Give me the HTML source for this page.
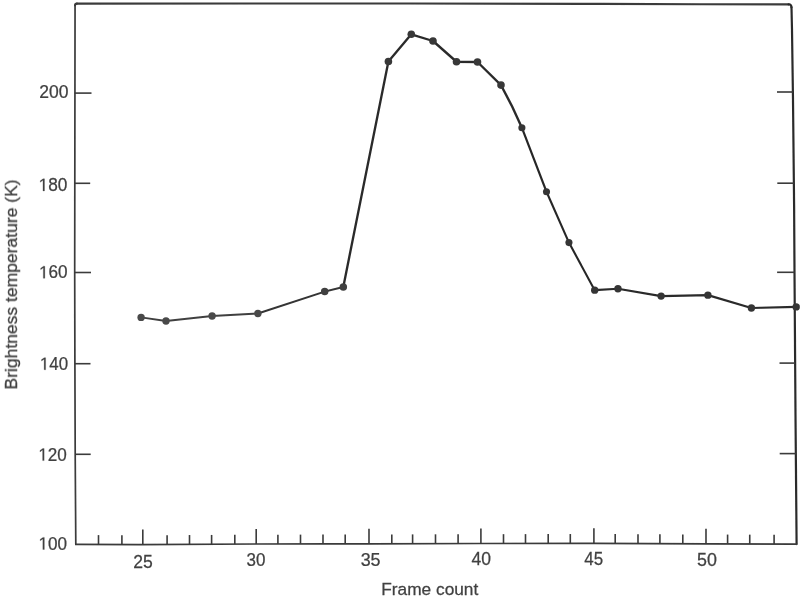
<!DOCTYPE html>
<html>
<head>
<meta charset="utf-8">
<title>Brightness temperature vs frame count</title>
<style>
  html, body { margin: 0; padding: 0; background: #ffffff; }
  body { width: 800px; height: 600px; overflow: hidden; position: relative; font-family: "Liberation Sans", sans-serif; }
  svg { position: absolute; left: 0; top: 0; display: block; }
  text { font-family: "Liberation Sans", sans-serif; fill: #404040; stroke: #404040; stroke-width: 0.25; }
</style>
</head>
<body>
<svg width="800" height="600" viewBox="0 0 800 600">
  <defs>
    <filter id="soft" x="0" y="0" width="800" height="600" filterUnits="userSpaceOnUse">
      <feGaussianBlur stdDeviation="0.35"/>
    </filter>
  </defs>
  <rect x="0" y="0" width="800" height="600" fill="#ffffff"/>
  <g id="all" filter="url(#soft)">
  <!-- frame -->
  <g id="frame" fill="none" stroke="#3a3a3a" stroke-linejoin="round" stroke-linecap="round">
    <polyline stroke-width="1.7" points="75.05,5.40 74.80,190.00 74.70,272.00 74.90,363.00 75.20,454.00 75.80,544.30"/>
    <polyline stroke-width="2.1" points="76.90,3.65 250.00,3.50 410.00,3.45 600.00,3.90 700.00,4.30 788.60,4.35"/>
    <polyline stroke="#2c2c2c" stroke-width="2.2" points="791.50,7.40 792.00,30.00 793.00,100.00 794.10,205.00 794.50,272.00 795.50,415.00 796.60,544.10"/>
    <polyline stroke-width="1.7" points="75.80,544.30 140.00,544.60 256.00,544.00 370.00,543.80 480.00,543.50 594.00,543.30 706.00,543.80 796.60,544.10"/>
    <path stroke="#2c2c2c" stroke-width="2.2" d="M788.6 4.35 Q791.3 4.0 791.5 7.4"/>
    <path stroke-width="2.1" d="M75.05 5.4 Q75.0 3.75 76.9 3.65"/>
  </g>
  <!-- left ticks -->
  <g id="lticks" stroke="#3a3a3a" stroke-width="1.6" stroke-linecap="butt">
    <line x1="74.93" y1="93.10" x2="91.50" y2="93.10"/>
    <line x1="74.81" y1="183.30" x2="90.20" y2="183.30"/>
    <line x1="74.70" y1="272.50" x2="91.00" y2="272.50"/>
    <line x1="74.90" y1="363.70" x2="90.50" y2="363.70"/>
    <line x1="75.20" y1="454.30" x2="90.70" y2="454.30"/>
  </g>
  <!-- right ticks -->
  <g id="rticks" stroke="#3a3a3a" stroke-width="1.6" stroke-linecap="butt">
    <line x1="777.00" y1="92.00" x2="792.89" y2="92.00"/>
    <line x1="777.30" y1="183.20" x2="793.87" y2="183.20"/>
    <line x1="777.10" y1="272.30" x2="794.50" y2="272.30"/>
    <line x1="779.50" y1="363.10" x2="795.14" y2="363.10"/>
    <line x1="779.70" y1="453.60" x2="795.83" y2="453.60"/>
  </g>
  <!-- bottom ticks -->
  <g id="bticks" stroke="#3a3a3a" stroke-width="1.6" stroke-linecap="butt">
    <line x1="98.50" y1="535.11" x2="98.50" y2="544.41"/>
    <line x1="121.90" y1="535.22" x2="121.90" y2="544.52"/>
    <line x1="142.80" y1="529.59" x2="142.80" y2="544.59"/>
    <line x1="167.10" y1="535.16" x2="167.10" y2="544.46"/>
    <line x1="189.50" y1="535.04" x2="189.50" y2="544.34"/>
    <line x1="211.60" y1="534.93" x2="211.60" y2="544.23"/>
    <line x1="234.80" y1="534.81" x2="234.80" y2="544.11"/>
    <line x1="256.20" y1="529.00" x2="256.20" y2="544.00"/>
    <line x1="277.90" y1="534.66" x2="277.90" y2="543.96"/>
    <line x1="300.50" y1="534.62" x2="300.50" y2="543.92"/>
    <line x1="323.00" y1="534.58" x2="323.00" y2="543.88"/>
    <line x1="345.20" y1="534.54" x2="345.20" y2="543.84"/>
    <line x1="369.00" y1="528.80" x2="369.00" y2="543.80"/>
    <line x1="391.80" y1="534.44" x2="391.80" y2="543.74"/>
    <line x1="412.60" y1="534.38" x2="412.60" y2="543.68"/>
    <line x1="435.50" y1="534.32" x2="435.50" y2="543.62"/>
    <line x1="458.10" y1="534.26" x2="458.10" y2="543.56"/>
    <line x1="480.90" y1="528.50" x2="480.90" y2="543.50"/>
    <line x1="503.50" y1="534.16" x2="503.50" y2="543.46"/>
    <line x1="525.50" y1="534.12" x2="525.50" y2="543.42"/>
    <line x1="548.20" y1="534.08" x2="548.20" y2="543.38"/>
    <line x1="570.30" y1="534.04" x2="570.30" y2="543.34"/>
    <line x1="593.90" y1="528.30" x2="593.90" y2="543.30"/>
    <line x1="615.20" y1="534.09" x2="615.20" y2="543.39"/>
    <line x1="638.00" y1="534.20" x2="638.00" y2="543.50"/>
    <line x1="659.90" y1="534.29" x2="659.90" y2="543.59"/>
    <line x1="682.80" y1="534.40" x2="682.80" y2="543.70"/>
    <line x1="706.00" y1="528.80" x2="706.00" y2="543.80"/>
    <line x1="727.60" y1="534.57" x2="727.60" y2="543.87"/>
    <line x1="749.75" y1="534.64" x2="749.75" y2="543.94"/>
    <line x1="774.10" y1="534.73" x2="774.10" y2="544.03"/>
  </g>
  <!-- tick labels -->
  <g id="labels">
    <text id="l200" transform="translate(39.36 97.77) scale(0.9954 1)" font-size="17.60">200</text>
    <g id="l180" transform="translate(38.63 190.94) scale(0.9810 1)">
      <path d="M515 0V1237L197 1010V1180L530 1409H696V0Z" transform="scale(0.008594 -0.008594)" fill="#404040" stroke="#404040" stroke-width="29.1"/>
      <text x="9.79" y="0" font-size="17.60">80</text>
    </g>
    <g id="l160" transform="translate(39.03 278.32) scale(0.9744 1)">
      <path d="M515 0V1237L197 1010V1180L530 1409H696V0Z" transform="scale(0.008594 -0.008594)" fill="#404040" stroke="#404040" stroke-width="29.1"/>
      <text x="9.79" y="0" font-size="17.60">60</text>
    </g>
    <g id="l140" transform="translate(39.89 369.76) scale(0.9587 1)">
      <path d="M515 0V1237L197 1010V1180L530 1409H696V0Z" transform="scale(0.008594 -0.008594)" fill="#404040" stroke="#404040" stroke-width="29.1"/>
      <text x="9.79" y="0" font-size="17.60">40</text>
    </g>
    <g id="l120" transform="translate(38.31 460.59) scale(0.9725 1)">
      <path d="M515 0V1237L197 1010V1180L530 1409H696V0Z" transform="scale(0.008594 -0.008594)" fill="#404040" stroke="#404040" stroke-width="29.1"/>
      <text x="9.79" y="0" font-size="17.60">20</text>
    </g>
    <g id="l100" transform="translate(38.53 549.51) scale(0.9723 1)">
      <path d="M515 0V1237L197 1010V1180L530 1409H696V0Z" transform="scale(0.008594 -0.008594)" fill="#404040" stroke="#404040" stroke-width="29.1"/>
      <text x="9.79" y="0" font-size="17.60">00</text>
    </g>
    <text id="l25" transform="translate(133.18 567.63) scale(0.9985 1)" font-size="17.60">25</text>
    <text id="l30" transform="translate(246.62 566.29) scale(0.9644 1)" font-size="17.60">30</text>
    <text id="l35" transform="translate(360.65 565.80) scale(1.0170 1)" font-size="17.60">35</text>
    <text id="l40" transform="translate(471.54 565.09) scale(0.9949 1)" font-size="17.60">40</text>
    <text id="l45" transform="translate(584.37 564.62) scale(0.9639 1)" font-size="17.60">45</text>
    <text id="l50" transform="translate(697.05 566.11) scale(1.0158 1)" font-size="17.60">50</text>
  </g>
  <!-- axis titles -->
  <text id="xtitle" transform="translate(381.20 595.00) scale(1.0300 1)" font-size="16.80">Frame count</text>
  <text id="ytitle" transform="translate(17.00 389.50) rotate(-90) scale(1.0740 1)" font-size="16.30">Brightness temperature (K)</text>
  <!-- data line -->
  <g id="curve" fill="none" stroke-linejoin="round" stroke-linecap="round">
    <polyline stroke="#404040" stroke-width="1.9" points="141.10,317.40 166.00,321.00 212.10,316.00 257.90,313.50"/>
    <polyline stroke="#343434" stroke-width="2.05" points="257.90,313.50 324.70,291.60 343.30,286.90"/>
    <path stroke="#2c2c2c" stroke-width="2.35" d="M343.30 286.90 L388.40 61.50 L411.30 34.30 L433.00 41.00 L456.50 61.75 L477.50 62.00 L501.00 85.10 Q512.55 105.92 521.90 127.75"/>
    <polyline stroke="#282828" stroke-width="2.1" points="521.90,127.75 546.50,191.75 568.95,242.60 594.70,290.15"/>
    <polyline stroke="#2a2a2a" stroke-width="2.15" points="594.70,290.15 617.95,288.75 661.10,296.10 707.90,295.15 751.40,308.00 796.20,306.90"/>
  </g>
  <!-- data points -->
  <g id="dots">
    <circle cx="141.10" cy="317.40" r="3.7" fill="#4a4a4a"/>
    <circle cx="166.00" cy="321.00" r="3.7" fill="#4a4a4a"/>
    <circle cx="212.10" cy="316.00" r="3.7" fill="#4a4a4a"/>
    <circle cx="257.90" cy="313.50" r="3.7" fill="#4a4a4a"/>
    <circle cx="324.70" cy="291.60" r="3.75" fill="#404040"/>
    <circle cx="343.30" cy="286.90" r="3.75" fill="#404040"/>
    <circle cx="388.40" cy="61.50" r="3.8" fill="#383838"/>
    <circle cx="411.30" cy="34.30" r="3.8" fill="#383838"/>
    <circle cx="433.00" cy="41.00" r="3.8" fill="#383838"/>
    <circle cx="456.50" cy="61.75" r="3.8" fill="#383838"/>
    <circle cx="477.50" cy="62.00" r="3.8" fill="#383838"/>
    <circle cx="501.00" cy="85.10" r="3.8" fill="#383838"/>
    <circle cx="521.90" cy="127.75" r="3.55" fill="#363636"/>
    <circle cx="546.50" cy="191.75" r="3.55" fill="#363636"/>
    <circle cx="568.95" cy="242.60" r="3.55" fill="#363636"/>
    <circle cx="594.70" cy="290.15" r="3.7" fill="#363636"/>
    <circle cx="617.95" cy="288.75" r="3.7" fill="#363636"/>
    <circle cx="661.10" cy="296.10" r="3.7" fill="#363636"/>
    <circle cx="707.90" cy="295.15" r="3.7" fill="#363636"/>
    <circle cx="751.40" cy="308.00" r="3.7" fill="#363636"/>
    <circle cx="796.20" cy="306.90" r="3.7" fill="#363636"/>
  </g>
  </g>
</svg>
</body>
</html>
